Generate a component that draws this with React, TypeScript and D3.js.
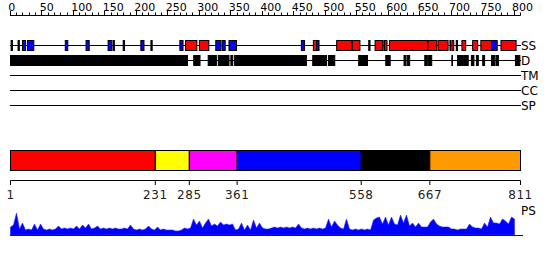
import React from "react";
import * as d3 from "d3";

const SEQ_LENGTH = 811;
const RULER_LABELS = [0, 50, 100, 150, 200, 250, 300, 350, 400, 450, 500, 550, 600, 650, 700, 750, 800];

// Secondary structure: type H = helix (red), E = strand (blue), T = other (black)
const SS_TYPES = ["T","T","E","E","E","E","E","T","T","E","T","E","H","H","E","E","E","E","H","E","H","H","T","H","T","H","H","H","H","T","H","T","H","H","H","E","H"];
const SS_STARTS = [2,13,20,28,88,121,156,164,180,208,224,270,279,301,327,337,348,463,482,487,519,544,570,580,594,595,603,664,680,699,702,709,718,735,748,765,780];
const SS_ENDS   = [4,15,25,38,92,126,162,166,182,213,226,275,297,316,335,342,360,468,487,491,543,556,572,592,595,599,664,678,696,700,705,711,724,743,765,774,804];

// Disorder segments
const D_STARTS = [1,292,315,331,351,357,481,506,554,597,626,631,659,665,702,711,721,733,741,751,765,772,803];
const D_ENDS   = [282,302,328,348,354,471,503,516,568,604,629,635,663,670,703,720,728,737,744,754,770,776,810];

const TRACK_LABELS = ["SS", "D", "TM", "CC", "SP"];

// Domains
const DOMAIN_BOUNDS = [1, 231, 285, 361, 558, 667, 811];
const DOMAIN_COLORS = ["#ff0000", "#ffff00", "#ff00ff", "#0000ff", "#000000", "#ff9900"];

// PS profile (sampled along the sequence)
const PS_VALUES = [
  8,10,22,6,12,5,6,5,11,5,11,6,5,6,5,6,9,6,7,6,
  7,6,9,6,10,7,11,6,7,9,6,7,6,7,6,7,6,6,7,6,
  10,6,5,6,5,6,9,6,5,8,5,6,5,5,5,4,4,5,7,6,
  7,16,10,14,7,12,16,9,11,9,13,10,11,10,11,5,6,12,5,10,
  5,15,7,12,7,6,6,7,8,7,8,7,8,7,8,7,11,7,6,7,
  6,7,6,7,6,7,16,8,14,10,7,6,16,6,5,6,5,6,5,6,
  5,15,17,18,11,18,10,18,11,10,20,12,20,9,12,8,12,8,8,8,
  13,16,11,9,8,8,8,6,6,5,6,6,6,11,8,7,7,6,12,8,
  18,12,12,11,16,14,11,18,16
];

const FONT = "'DejaVu Sans', Verdana, sans-serif";

export default function App() {
  const x = d3.scaleLinear().domain([1, SEQ_LENGTH]).range([10.5, 520.5]);
  const rulerTicks = d3.range(0, SEQ_LENGTH + 1, 10);

  const ssColor = (t: string) => (t === "H" ? "#ff0000" : t === "E" ? "#0000ff" : "#000000");

  const trackY = [45.5, 60.5, 75.5, 90.5, 105.5];

  const psX = d3.scaleLinear().domain([0, PS_VALUES.length - 1]).range([10.5, 514.5]);
  const psY = d3.scaleLinear().domain([0, 25]).range([235, 210]);
  const area = d3
    .area<number>()
    .x((_, i) => psX(i))
    .y0(psY(0))
    .y1((d) => psY(d))
    .curve(d3.curveLinear);

  return (
    <svg
      width={550}
      height={260}
      style={{ position: "absolute", left: 0, top: 0, background: "#fff" }}
      fontFamily={FONT}
    >
      <rect x={0} y={0} width={550} height={260} fill="#fff" />
      {/* Ruler */}
      <line x1={x(0)} x2={x(SEQ_LENGTH)} y1={15.5} y2={15.5} stroke="#000" strokeWidth={1} />
      {rulerTicks.map((t) => (
        <line
          key={"rt" + t}
          x1={Math.round(x(t)) + 0.5}
          x2={Math.round(x(t)) + 0.5}
          y1={t % 50 === 0 ? 11 : 12.5}
          y2={15.5}
          stroke="#000"
          strokeWidth={1}
        />
      ))}
      {RULER_LABELS.map((t) => (
        <text key={"rl" + t} x={x(t) - 1.5} y={11} fontSize={11} fill="#000">
          {t}
        </text>
      ))}

      {/* Track base lines */}
      {trackY.map((y, i) => (
        <g key={"tr" + i}>
          <line x1={10} x2={521} y1={y} y2={y} stroke="#000" strokeWidth={1} />
          <text x={521} y={y + 4.5} fontSize={12} fill="#000">
            {TRACK_LABELS[i]}
          </text>
        </g>
      ))}

      {/* SS features */}
      {SS_TYPES.map((t, i) => (
        <rect
          key={"ss" + i}
          x={x(SS_STARTS[i])}
          y={40.5}
          width={Math.max(0.5, x(SS_ENDS[i]) - x(SS_STARTS[i]))}
          height={10}
          fill={ssColor(t)}
          stroke="#000"
          strokeWidth={1}
        />
      ))}

      {/* Disorder */}
      {D_STARTS.map((s, i) => (
        <rect
          key={"d" + i}
          x={x(s)}
          y={55.5}
          width={Math.max(0.5, x(D_ENDS[i]) - x(s))}
          height={10}
          fill="#000"
          stroke="#000"
          strokeWidth={1}
        />
      ))}

      {/* Domains */}
      {DOMAIN_COLORS.map((c, i) => (
        <rect
          key={"dom" + i}
          x={x(DOMAIN_BOUNDS[i])}
          y={150.5}
          width={x(DOMAIN_BOUNDS[i + 1]) - x(DOMAIN_BOUNDS[i])}
          height={20}
          fill={c}
          stroke="#000"
          strokeWidth={1}
        />
      ))}
      <line x1={x(1)} x2={x(SEQ_LENGTH)} y1={180.5} y2={180.5} stroke="#000" strokeWidth={1} />
      {DOMAIN_BOUNDS.map((b) => (
        <g key={"db" + b}>
          <line x1={x(b)} x2={x(b)} y1={180.5} y2={185} stroke="#000" strokeWidth={1} />
          <text x={x(b)} y={199} fontSize={12} textAnchor="middle" fill="#222" letterSpacing={0.5}>
            {b}
          </text>
        </g>
      ))}

      {/* PS profile */}
      <path d={area(PS_VALUES) || ""} fill="#0000ff" stroke="#2a2aff" strokeWidth={0.6} />
      <line x1={10} x2={523} y1={235.5} y2={235.5} stroke="#0000ff" strokeWidth={1} />
      <text x={521} y={215} fontSize={12} fill="#000">
        PS
      </text>
    </svg>
  );
}
